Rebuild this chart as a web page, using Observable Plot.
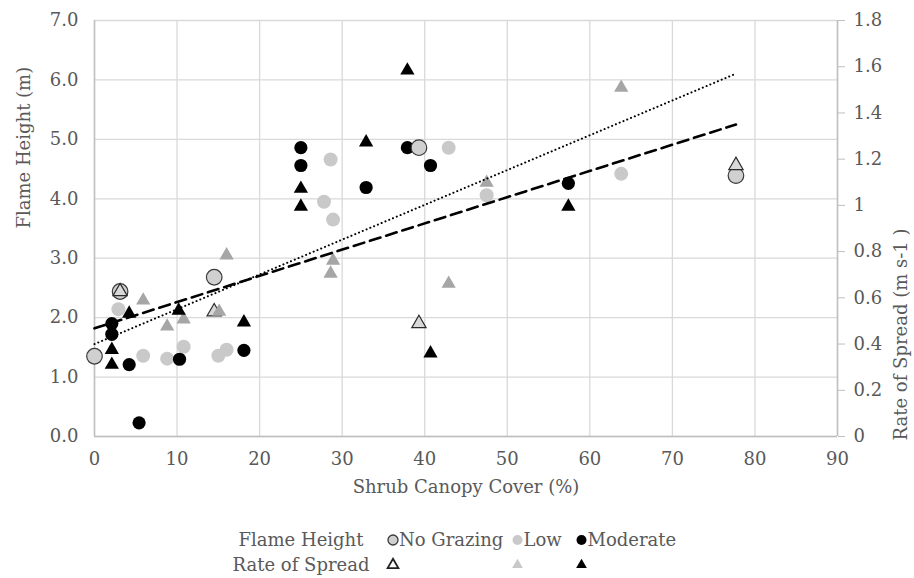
<!DOCTYPE html>
<html><head><meta charset="utf-8">
<script src="https://cdn.jsdelivr.net/npm/d3@7"></script>
<script src="https://cdn.jsdelivr.net/npm/@observablehq/plot@0.6"></script>
<style>
body{margin:0;background:#fff;}
#wrap{position:relative;width:914px;height:578px;color:#595959;background:#fff;}
#chart svg, #legend svg{display:block;}
</style></head><body><div id="wrap"><div id="chart"></div><div id="legend"></div></div>
<script>
// ---- Data ----
// Flame height (m) by grazing level
const ngX = [0, 3.1, 14.5, 39.3, 77.7];
const ngFlame = [1.35, 2.44, 2.68, 4.86, 4.39];
const lowX = [2.9, 5.9, 8.8, 10.8, 15.0, 16.0, 27.8, 28.6, 28.9, 42.9, 47.5, 63.8];
const lowFlame = [2.14, 1.36, 1.31, 1.51, 1.36, 1.46, 3.95, 4.66, 3.65, 4.86, 4.06, 4.42];
const modX = [2.1, 2.1, 4.2, 5.4, 10.3, 18.1, 25.0, 25.0, 32.9, 37.9, 40.7, 57.4];
const modFlame = [1.90, 1.72, 1.21, 0.23, 1.30, 1.45, 4.86, 4.56, 4.19, 4.86, 4.56, 4.26];
// Rate of spread (m s-1) by grazing level
const ngRosX = [3.1, 14.5, 39.3, 77.7];
const ngRos = [0.627, 0.540, 0.489, 1.173];
const lowRosX = [5.9, 8.8, 10.8, 15.1, 16.0, 28.6, 28.9, 42.9, 47.5, 63.8];
const lowRos = [0.589, 0.476, 0.507, 0.540, 0.784, 0.705, 0.761, 0.661, 1.098, 1.509];
const modRosX = [2.1, 2.1, 4.2, 10.2, 18.1, 25.0, 25.0, 32.9, 37.9, 40.7, 57.4];
const modRos = [0.375, 0.311, 0.532, 0.545, 0.494, 1.072, 0.995, 1.273, 1.584, 0.360, 0.995];
// Linear trend lines (end points)
const trendX = [0, 77.7];
const flameTrend = [1.82, 5.25];
const rosTrend = [0.40, 1.57];
// Axis ticks
const xTicks = [0, 10, 20, 30, 40, 50, 60, 70, 80, 90];
const flameTicks = [0, 1, 2, 3, 4, 5, 6, 7];
const rosTicks = [0, 0.2, 0.4, 0.6, 0.8, 1.0, 1.2, 1.4, 1.6, 1.8];
// Text
const xTitle = "Shrub Canopy Cover (%)";
const yTitle = "Flame Height (m)";
const y2Title = "Rate of Spread (m s-1 )";
const legendRows = ["Flame Height", "Rate of Spread"];
const groups = ["No Grazing", "Low", "Moderate"];

// ---- Build ----
const FONT = "DejaVu Serif";
const k = 7 / 1.8; // flame-height units per rate-of-spread unit (secondary axis)
const pts = (xs, ys) => xs.map((x, i) => ({x, y: ys[i]}));
const ptsR = (xs, ys) => xs.map((x, i) => ({x, y: ys[i] * k}));
const flameLine = pts(trendX, flameTrend);
const rosLine = ptsR(trendX, rosTrend);

const axisGray = "#bfbfbf";
const gridGray = "#d9d9d9";

const chart = Plot.plot({
  width: 914, height: 510,
  marginLeft: 94, marginRight: 77, marginTop: 20, marginBottom: 74,
  x: {domain: [0, 90], label: null},
  y: {domain: [0, 7], label: null},
  style: {fontFamily: FONT, fontSize: "18px", color: "#595959", background: "#fff"},
  marks: [
    Plot.gridX(xTicks, {stroke: gridGray, strokeOpacity: 1, strokeWidth: 1.3}),
    Plot.gridY(flameTicks, {stroke: gridGray, strokeOpacity: 1, strokeWidth: 1.3}),
    Plot.ruleX([0, 90], {stroke: axisGray, strokeWidth: 1.5}),
    Plot.ruleY([0], {stroke: axisGray, strokeWidth: 1.5}),
    Plot.axisX(xTicks, {tickSize: 0, tickPadding: 16, label: null, fill: "#595959"}),
    Plot.axisY(flameTicks, {anchor: "left", tickSize: 0, tickPadding: 16, label: null, tickFormat: d3.format(".1f"), fill: "#595959"}),
    Plot.axisY(rosTicks.map(v => v * k), {anchor: "right", tickSize: 7, tickPadding: 9, stroke: axisGray, label: null,
      tickFormat: d => String(+(d / k).toFixed(1)), fill: "#595959"}),
    // Flame height circles
    Plot.dot(pts(lowX, lowFlame), {x: "x", y: "y", r: 7, fill: "#c9c9c9"}),
    Plot.dot(pts(modX, modFlame), {x: "x", y: "y", r: 6.6, fill: "#000"}),
    Plot.dot(pts(ngX, ngFlame), {x: "x", y: "y", r: 7.8, fill: "#d0d0d0", stroke: "#3a3a3a", strokeWidth: 1.2}),
    // Rate of spread triangles
    Plot.dot(ptsR(ngRosX, ngRos), {x: "x", y: "y", r: 5.3, symbol: "triangle", fill: "#d9d9d9", stroke: "#2a2a2a", strokeWidth: 1.2}),
    Plot.dot(ptsR(lowRosX, lowRos), {x: "x", y: "y", r: 5.3, symbol: "triangle", fill: "#a6a6a6"}),
    Plot.dot(ptsR(modRosX, modRos), {x: "x", y: "y", r: 5.3, symbol: "triangle", fill: "#000"}),
    // Trend lines
    Plot.line(flameLine, {x: "x", y: "y", stroke: "#000", strokeWidth: 2.6, strokeDasharray: "11,6"}),
    Plot.line(rosLine, {x: "x", y: "y", stroke: "#000", strokeWidth: 2, strokeDasharray: "0.1,4", strokeLinecap: "round"}),
    // Titles
    Plot.text([yTitle], {frameAnchor: "left", dx: -70, rotate: -90, fill: "#595959", fontSize: 18}),
    Plot.text([y2Title], {frameAnchor: "right", dx: 64, rotate: -90, fill: "#595959", fontSize: 18}),
    Plot.text([xTitle], {frameAnchor: "bottom", dy: 56, fill: "#595959", fontSize: 18})
  ]
});
document.getElementById("chart").append(chart);

// ---- Legend (below the chart) ----
const lg = d3.select("#legend").append("svg").attr("width", 914).attr("height", 68)
  .attr("font-family", FONT).attr("font-size", 18);
const rowY = [30, 55];
legendRows.forEach((t, i) => {
  lg.append("text").attr("x", 301).attr("y", rowY[i]).attr("dy", "0.35em").attr("text-anchor", "middle")
    .attr("fill", "#595959").text(t);
});
const symX = [393, 517.5, 581.5];
const circleStyle = [
  {fill: "#d0d0d0", stroke: "#3a3a3a", r: 5},
  {fill: "#c9c9c9", stroke: "none", r: 5},
  {fill: "#000", stroke: "none", r: 5}
];
const triStyle = [
  {fill: "#fff", stroke: "#222"},
  {fill: "#c9c9c9", stroke: "none"},
  {fill: "#000", stroke: "none"}
];
groups.forEach((g, i) => {
  const c = circleStyle[i];
  lg.append("circle").attr("cx", symX[i]).attr("cy", rowY[0]).attr("r", c.r)
    .attr("fill", c.fill).attr("stroke", c.stroke).attr("stroke-width", 1.3);
  lg.append("text").attr("x", symX[i] + 6).attr("y", rowY[0]).attr("dy", "0.35em").attr("fill", "#595959").text(g);
  const t = triStyle[i];
  lg.append("path").attr("d", d3.symbol(d3.symbolTriangle, 50)())
    .attr("transform", `translate(${symX[i]},${rowY[1]})`)
    .attr("fill", t.fill).attr("stroke", t.stroke).attr("stroke-width", 1.8);
});
</script></body></html>
